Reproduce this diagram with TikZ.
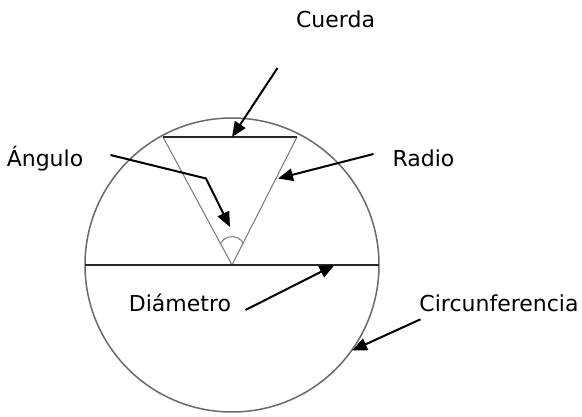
\documentclass[tikz,border=0pt]{standalone}
\usepackage{fontspec}
\setmainfont{DejaVu Sans}
\usetikzlibrary{arrows.meta}
\definecolor{rim}{RGB}{105,105,105}
\definecolor{side}{RGB}{120,120,120}
\definecolor{segm}{RGB}{40,40,40}
\begin{document}
\begin{tikzpicture}[x=1pt,y=-1pt,
  lbl/.style={anchor=base,inner sep=0pt,font=\fontsize{22}{26}\selectfont},
  pointer/.style={line width=2pt,-{Triangle[length=15pt,width=12.5pt]}},
  rimline/.style={draw=rim,line width=1.5pt},
  sideline/.style={draw=side,line width=1pt},
  segline/.style={draw=segm,line width=1.4pt}]
\useasboundingbox (0,0) rectangle (582,417);
% geometry
\coordinate (O) at (232,265);
\coordinate (A) at (163,137);
\coordinate (B) at (297,137);
\coordinate (L) at (85,265);
\coordinate (R) at (379,265);
\coordinate (M) at (232,137);
% circle
\draw[rimline] (O) circle (147pt);
% triangle sides (radii)
\draw[sideline] (A) -- (O) -- (B);
% angle arc
\draw[sideline] (220.4,243.6) arc[start angle=152.8,end angle=27.2,radius=13pt];
% chord and diameter
\draw[segline] (A) -- (B);
\draw[segline] (L) -- (R);
% labels
\node[lbl] (cuerda) at (335.5,28) {Cuerda};
\node[lbl] (angulo) at (45,167) {Ángulo};
\node[lbl] (radio) at (423.5,167) {Radio};
\node[lbl] (diametro) at (180,311.5) {Diámetro};
\node[lbl] (circ) at (499,311.5) {Circunferencia};
% arrow ends
\coordinate (c1) at (277.5,68);
\coordinate (a1) at (110.5,155);
\coordinate (a2) at (206,178.5);
\coordinate (a3) at (230,227);
\coordinate (r1) at (373.5,154);
\coordinate (r2) at (278,178.5);
\coordinate (d1) at (245.5,310);
\coordinate (d2) at (334.5,265);
\coordinate (f1) at (420.5,319.3);
\coordinate (f2) at (352,350.5);
% pointers
\draw[pointer] (c1) -- (M);
\draw[pointer] (a1) -- (a2) -- (a3);
\draw[pointer] (r1) -- (r2);
\draw[pointer] (d1) -- (d2);
\draw[pointer] (f1) -- (f2);
\end{tikzpicture}
\end{document}
